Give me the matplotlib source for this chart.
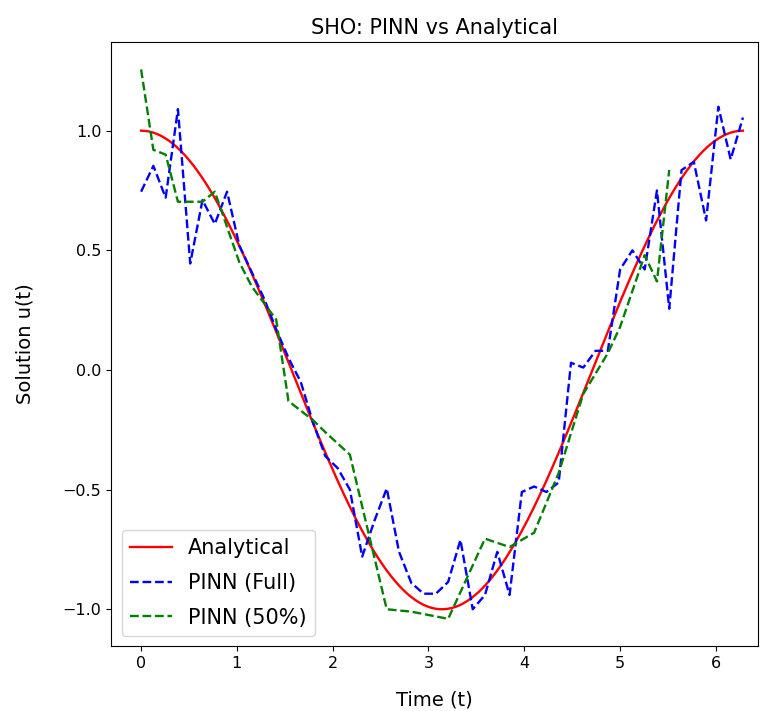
import numpy as np
import matplotlib
matplotlib.use("Agg")
from matplotlib import pyplot as plt

# time grid used by both models
n_points = 50
t = np.linspace(0, 2 * np.pi, n_points)

# analytical solution of the oscillator, u(t) = cos(t)
t_fine = np.linspace(0, 2 * np.pi, 300)
u_exact = np.cos(t_fine)

# PINN trained on the full data set
u_full = [0.745, 0.853, 0.72, 1.09, 0.445, 0.71, 0.61, 0.745, 0.52, 0.41,
          0.30, 0.17, 0.05, -0.05, -0.22, -0.36, -0.41, -0.50, -0.78, -0.63,
          -0.495, -0.76, -0.89, -0.935, -0.935, -0.886, -0.71, -1.00, -0.94, -0.76,
          -0.94, -0.51, -0.487, -0.51, -0.47, 0.03, 0.01, 0.08, 0.08, 0.42,
          0.50, 0.42, 0.75, 0.256, 0.835, 0.87, 0.625, 1.10, 0.88, 1.055]

# PINN trained on 50% of the data: subset of grid indices
half_idx = [0, 1, 2, 3, 5, 6, 8, 9, 11, 12, 14, 15, 17, 18, 20, 22, 23, 25,
            28, 30, 32, 34, 36, 38, 39, 41, 42, 43]
u_half = [1.256, 0.92, 0.90, 0.703, 0.703, 0.745, 0.45, 0.35, 0.21, -0.13,
          -0.21, -0.26, -0.354, -0.57, -1.0, -1.01, -1.02, -1.04,
          -0.705, -0.74, -0.68, -0.43, -0.10, 0.07, 0.18, 0.48, 0.37, 0.836]

fig = plt.figure(figsize=(7.61, 7.11), dpi=100)
ax = fig.add_axes([0.146, 0.091, 0.850, 0.850])

ax.plot(t_fine, u_exact, color="r", lw=1.7, label="Analytical")
ax.plot(t, u_full, "--", color="b", lw=1.7, label="PINN (Full)")
ax.plot(t[half_idx], u_half, "--", color="g", lw=1.7, label="PINN (50%)")

ax.set_xlim(-0.313, 6.44)
ax.set_title("SHO: PINN vs Analytical", fontsize=15)
ax.set_xlabel("Time (t)", fontsize=14, labelpad=14)
ax.set_ylabel("Solution u(t)", fontsize=14, labelpad=20)
ax.tick_params(labelsize=11.5)
ax.legend(loc="lower left", fontsize=15, labelspacing=0.7)

fig.savefig("out.png", dpi=100)
